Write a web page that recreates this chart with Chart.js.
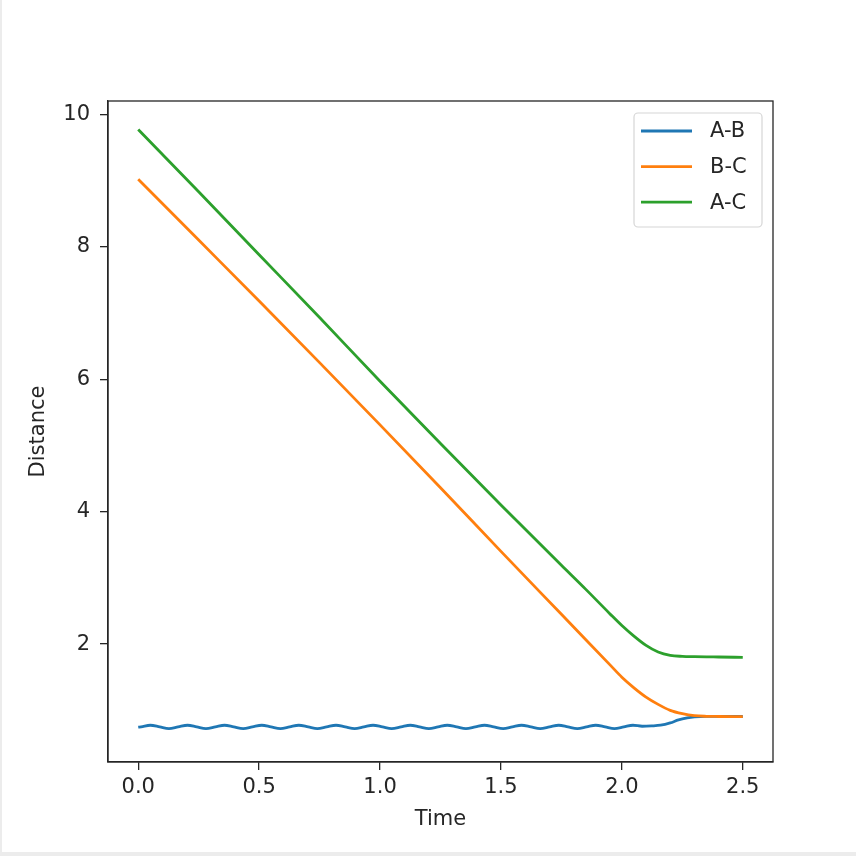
<!DOCTYPE html>
<html>
<head>
<meta charset="utf-8">
<script src="https://cdn.jsdelivr.net/npm/chart.js@4.4.1/dist/chart.umd.min.js"></script>
<style>
    html, body { margin: 0; padding: 0; background: #fff; }
    #wrap { width: 856px; height: 856px; }
</style>
</head>
<body>
<div id="wrap"><canvas id="distChart" width="856" height="856"></canvas></div>
<script>
// A-B distance, sampled at the peaks / troughs of the wobble
var abTime = [0.000, 0.012, 0.050, 0.089, 0.127, 0.165, 0.204, 0.242, 0.280, 0.319,
    0.357, 0.395, 0.434, 0.472, 0.511, 0.549, 0.588, 0.626, 0.664, 0.703,
    0.741, 0.779, 0.818, 0.856, 0.895, 0.933, 0.971, 1.010, 1.048, 1.087,
    1.125, 1.163, 1.202, 1.240, 1.278, 1.317, 1.355, 1.394, 1.432, 1.470,
    1.509, 1.547, 1.585, 1.624, 1.662, 1.701, 1.739, 1.777, 1.816, 1.854,
    1.892, 1.931, 1.969, 2.008, 2.046, 2.084, 2.123, 2.160, 2.200, 2.234,
    2.270, 2.300, 2.350, 2.400, 2.500];
var abDist = [0.745, 0.75, 0.775, 0.75, 0.725,
    0.75, 0.775, 0.75, 0.725,
    0.75, 0.775, 0.75, 0.725,
    0.75, 0.775, 0.75, 0.725,
    0.75, 0.775, 0.75, 0.725,
    0.75, 0.775, 0.75, 0.725,
    0.75, 0.775, 0.75, 0.725,
    0.75, 0.775, 0.75, 0.725,
    0.75, 0.775, 0.75, 0.725,
    0.75, 0.775, 0.75, 0.725,
    0.75, 0.775, 0.75, 0.725,
    0.75, 0.775, 0.75, 0.725,
    0.75, 0.775, 0.75, 0.725,
    0.75, 0.775, 0.76, 0.765,
    0.775, 0.81, 0.855, 0.885, 0.90, 0.908, 0.908, 0.907];

// B-C and A-C distances
var lineTime = [0, 0.25, 0.5, 0.75, 1.0, 1.25, 1.5, 1.75, 1.85, 1.95,
    2.0, 2.05, 2.1, 2.15, 2.2, 2.25, 2.3, 2.35, 2.4, 2.5];
var bcDist = [9.02, 8.10, 7.18, 6.25, 5.31, 4.36, 3.40, 2.45, 2.07, 1.69,
    1.50, 1.34, 1.20, 1.09, 1.00, 0.95, 0.92, 0.91, 0.907, 0.905];
var acDist = [9.77, 8.83, 7.88, 6.93, 5.97, 5.03, 4.10, 3.19, 2.83, 2.46,
    2.28, 2.12, 1.98, 1.88, 1.83, 1.815, 1.81, 1.807, 1.805, 1.80];

var seriesNames = ["A-B", "B-C", "A-C"];
var xTicks = [0, 0.5, 1, 1.5, 2, 2.5];
var yTicks = [2, 4, 6, 8, 10];

var FONT = "'DejaVu Sans', 'Liberation Sans', sans-serif";
var INK = "#262626";

function pairs(xs, ys) {
    return xs.map(function (x, i) { return {x: x, y: ys[i]}; });
}

// top/right spines and the matplotlib-style legend box
var framePlugin = {
    id: "frame",
    beforeDraw: function (chart) {
        var c = chart.ctx;
        c.save();
        c.fillStyle = "#fff";
        c.fillRect(0, 0, chart.width, chart.height);
        // faint screenshot edge on the left and bottom
        c.fillStyle = "#ececec";
        c.fillRect(0, 0, 2, chart.height);
        c.fillRect(0, chart.height - 4, chart.width, 4);
        c.restore();
    },
    afterDraw: function (chart) {
        var c = chart.ctx, a = chart.chartArea;
        c.save();
        c.strokeStyle = INK;
        c.lineWidth = 1.3;
        c.strokeRect(a.left, a.top, a.right - a.left, a.bottom - a.top);

        // legend
        var bw = 128, bh = 114;
        var bx = a.right - 11 - bw, by = a.top + 12;
        c.beginPath();
        c.roundRect(bx, by, bw, bh, 4);
        c.fillStyle = "rgba(255,255,255,0.8)";
        c.fill();
        c.strokeStyle = "#d6d6d6";
        c.lineWidth = 1.2;
        c.stroke();
        c.font = "21px " + FONT;
        c.textBaseline = "middle";
        c.textAlign = "left";
        chart.data.datasets.forEach(function (ds, i) {
            var ly = by + 18 + i * 35.6;
            c.beginPath();
            c.moveTo(bx + 7, ly);
            c.lineTo(bx + 58, ly);
            c.strokeStyle = ds.borderColor;
            c.lineWidth = 2.8;
            c.stroke();
            c.fillStyle = INK;
            c.fillText(ds.label, bx + 76, ly + 1);
        });
        c.restore();
    }
};

var ctx = document.getElementById("distChart");
new Chart(ctx, {
    type: "line",
    data: {
        datasets: [
            {
                label: seriesNames[0],
                data: pairs(abTime, abDist),
                borderColor: "#1f77b4",
                borderWidth: 2.8,
                pointRadius: 0,
                cubicInterpolationMode: "monotone",
                fill: false,
                order: 2
            },
            {
                label: seriesNames[1],
                data: pairs(lineTime, bcDist),
                borderColor: "#ff7f0e",
                borderWidth: 2.8,
                pointRadius: 0,
                cubicInterpolationMode: "monotone",
                fill: false,
                order: 1
            },
            {
                label: seriesNames[2],
                data: pairs(lineTime, acDist),
                borderColor: "#2ca02c",
                borderWidth: 2.8,
                pointRadius: 0,
                cubicInterpolationMode: "monotone",
                fill: false,
                order: 0
            }
        ]
    },
    options: {
        responsive: false,
        animation: false,
        devicePixelRatio: 1,
        layout: {padding: {top: 101, right: 83, left: 0, bottom: 0}},
        plugins: {
            legend: {display: false},
            tooltip: {enabled: false}
        },
        scales: {
            x: {
                type: "linear",
                min: -0.125,
                max: 2.625,
                afterBuildTicks: function (scale) {
                    scale.ticks = xTicks.map(function (v) { return {value: v}; });
                },
                afterFit: function (scale) { scale.height = 94; },
                ticks: {
                    font: {family: FONT, size: 21},
                    color: INK,
                    padding: 5,
                    maxRotation: 0,
                    autoSkip: false,
                    callback: function (v) { return v.toFixed(1); }
                },
                grid: {drawOnChartArea: false, tickLength: 8, color: INK, lineWidth: 1.3},
                border: {display: true, color: INK, width: 1.3},
                title: {
                    display: true,
                    text: "Time",
                    font: {family: FONT, size: 21},
                    color: INK,
                    padding: {top: 0, bottom: 24}
                }
            },
            y: {
                type: "linear",
                min: 0.22,
                max: 10.2,
                afterBuildTicks: function (scale) {
                    scale.ticks = yTicks.map(function (v) { return {value: v}; });
                },
                afterFit: function (scale) { scale.width = 108; },
                ticks: {
                    font: {family: FONT, size: 21},
                    color: INK,
                    padding: 10,
                    callback: function (v) { return String(v); }
                },
                grid: {drawOnChartArea: false, tickLength: 8, color: INK, lineWidth: 1.3},
                border: {display: true, color: INK, width: 1.3},
                title: {
                    display: true,
                    text: "Distance",
                    font: {family: FONT, size: 21},
                    color: INK,
                    padding: {top: 26, bottom: 0}
                }
            }
        }
    },
    plugins: [framePlugin]
});
</script>
</body>
</html>
